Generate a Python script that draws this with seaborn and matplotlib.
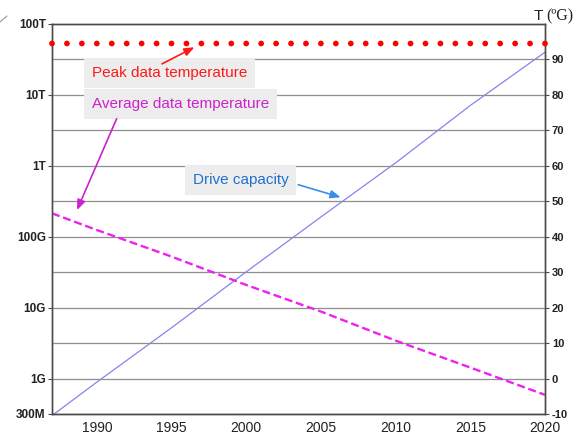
import matplotlib
matplotlib.use("Agg")
import matplotlib.pyplot as plt
import seaborn as sns
import pandas as pd
import numpy as np
from matplotlib.lines import Line2D

# ---- data ----
cap_years = [1987, 1990, 1995, 2000, 2005, 2010, 2015, 2020]
capacity_bytes = [3.0e8, 8.9e8, 5.2e9, 3.2e10, 1.9e11, 1.1e12, 7.1e12, 4.0e13]

peak_years = list(range(1987, 2021))
peak_temp = [94.5] * len(peak_years)

avg_years = [1987, 1990, 1995, 2000, 2005, 2010, 2015, 2020]
avg_temp = [46.6, 41.9, 34.4, 26.4, 18.9, 10.7, 3.1, -4.6]

cap_ticks = [10 ** 8.5, 1e9, 1e10, 1e11, 1e12, 1e13, 1e14]
cap_ticklabels = ["300M", "1G", "10G", "100G", "1T", "10T", "100T"]
temp_ticks = list(range(-10, 100, 10))
year_ticks = [1990, 1995, 2000, 2005, 2010, 2015, 2020]

sns.set_theme(style="white")
plt.rcParams["font.family"] = ["Liberation Sans", "DejaVu Sans"]

W, H = 582, 434
fig = plt.figure(figsize=(W / 100, H / 100), dpi=100)
L, R, T, B = 52, 545, 24, 414
ax = fig.add_axes([L / W, 1 - B / H, (R - L) / W, (B - T) / H])
ax2 = ax.twinx()

grid_c = "#8e8e8e"
spine_c = "#4a4a4a"

# right (temperature) axis
ax2.set_ylim(-10, 100)
ax2.set_yticks(temp_ticks)
ax2.set_yticklabels([str(t) for t in temp_ticks], fontsize=8, fontweight="bold", color="#222222")
ax2.yaxis.grid(True, color=grid_c, lw=0.9)
ax2.xaxis.grid(True, color=grid_c, lw=0.9)

# left (capacity) axis
ax.set_yscale("log")
ax.set_ylim(10 ** 8.5, 1e14)
ax.set_yticks(cap_ticks)
ax.set_yticklabels(cap_ticklabels, fontsize=8.5, fontweight="bold", color="#222222")
ax.yaxis.set_minor_locator(matplotlib.ticker.NullLocator())
ax.set_xlim(1987, 2020)
ax.set_xticks(year_ticks)
ax.set_xticklabels([str(y) for y in year_ticks], fontsize=10, color="#222222")
ax2.set_xlim(1987, 2020)

cap_df = pd.DataFrame({"year": cap_years, "cap": capacity_bytes})
sns.lineplot(data=cap_df, x="year", y="cap", ax=ax, color="#8484f0", lw=0.9)

peak_df = pd.DataFrame({"year": peak_years, "t": peak_temp})
sns.scatterplot(data=peak_df, x="year", y="t", ax=ax2, color="#ff0000", s=17,
                edgecolor="none", clip_on=False, zorder=5)

avg_df = pd.DataFrame({"year": avg_years, "t": avg_temp})
sns.lineplot(data=avg_df, x="year", y="t", ax=ax2, color="#ee22ee", lw=1.7)
ax2.lines[-1].set_dashes((3.4, 1.6))

for a in (ax, ax2):
    a.set_xlabel("")
    a.set_ylabel("")
    for s in a.spines.values():
        s.set_color(spine_c)
        s.set_linewidth(1.0)
    a.tick_params(direction="out", length=3, width=0.8, color=spine_c, pad=2)
ax.tick_params(axis="y", pad=1.5)

# annotations (axes = ax2 data coords: year, temperature scale)
box = dict(boxstyle="square,pad=0.5", fc="#ededed", ec="none")
ax2.text(1989.68, 86.2, "Peak data temperature", color="#ff1a1a", fontsize=11,
         ha="left", va="center", bbox=box)
ax2.text(1989.68, 77.4, "Average data temperature", color="#cc22cc", fontsize=11,
         ha="left", va="center", bbox=box)
ax2.text(1996.44, 56.0, "Drive capacity", color="#2070d0", fontsize=11,
         ha="left", va="center", bbox=box)

ax2.annotate("", xy=(1996.7, 93.8), xytext=(1994.2, 88.4),
             arrowprops=dict(arrowstyle="-|>,head_length=0.5,head_width=0.2", color="#ff1a1a", lw=1.2))
ax2.annotate("", xy=(1988.6, 46.8), xytext=(1991.4, 74.0),
             arrowprops=dict(arrowstyle="-|>,head_length=0.5,head_width=0.2", color="#cc22cc", lw=1.2))
ax2.annotate("", xy=(2006.5, 50.9), xytext=(2003.3, 54.9),
             arrowprops=dict(arrowstyle="-|>,head_length=0.5,head_width=0.2", color="#3a8ee8", lw=1.2))

fig.text(534 / W, 1 - 16 / H, "T", fontsize=11, ha="left", va="center", color="#222222")
fig.text(546 / W, 1 - 16 / H, "(ºG)", fontsize=11.5, ha="left", va="center",
         family=["Liberation Serif", "DejaVu Serif"], color="#222222")

# small stray mark at top-left corner of the reference image
fig.add_artist(Line2D([0 / W, 7 / W], [1 - 22 / H, 1 - 16 / H], color="#999999", lw=0.8))

fig.savefig("out.png", dpi=100)
